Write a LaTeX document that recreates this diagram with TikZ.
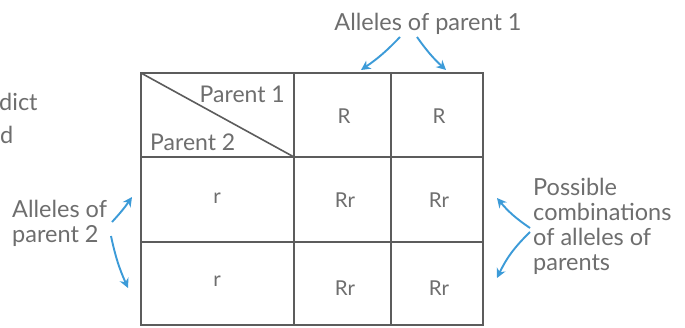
\documentclass[tikz,border=0pt]{standalone}
\usepackage{fontspec}
\setmainfont{Lato}
\usetikzlibrary{arrows.meta}
\definecolor{labelgray}{HTML}{6E6E6E}
\definecolor{gridgray}{HTML}{5C5C5C}
\definecolor{arrowblue}{HTML}{3C9BD8}
\begin{document}
\begin{tikzpicture}[x=1pt,y=-1pt,
  lbl/.style={font=\fontsize{23.5}{25}\selectfont, text=labelgray, inner sep=0pt},
  hdr/.style={font=\fontsize{23}{25}\selectfont, text=labelgray, inner sep=0pt},
  cell/.style={font=\fontsize{20.5}{22}\selectfont, text=labelgray, inner sep=0pt, anchor=base},
  grid/.style={draw=gridgray, line width=1.6pt},
  pointer/.style={draw=arrowblue, line width=1.9pt, -{Stealth[length=9.5pt,width=9.5pt]}}]
\fill[white] (0,0) rectangle (685,327);
\useasboundingbox (0,0) rectangle (685,327);

% text running in from the left margin
\node[lbl, anchor=base west] (frag1) at (-1,110) {dict};
\node[lbl, anchor=base west] (frag2) at (0,143) {d};

% Punnett square
\coordinate (nw) at (141,73);
\coordinate (se) at (483,325);
\coordinate (c1) at (294,73);
\coordinate (c2) at (391,73);
\coordinate (hd) at (294,157);
\draw[grid] (nw) rectangle (se);
\draw[grid] (141,157) -- (483,157);
\draw[grid] (141,242) -- (483,242);
\draw[grid] (c1) -- (294,325);
\draw[grid] (c2) -- (391,325);
\draw[grid] (nw) -- (hd);

\node[hdr, anchor=base east] (p1) at (285,102) {Parent 1};
\node[hdr, anchor=base west] (p2) at (150,150) {Parent 2};

\node[cell] (a1) at (344,123) {R};
\node[cell] (a2) at (439,123) {R};
\node[cell] (b1) at (217,203) {r};
\node[cell] (b2) at (217,286) {r};
\node[cell] (x11) at (345,207) {Rr};
\node[cell] (x12) at (439,207) {Rr};
\node[cell] (x21) at (345,295) {Rr};
\node[cell] (x22) at (439,295) {Rr};

% annotations
\node[lbl, anchor=base] (top) at (428,30) {Alleles of parent 1};
\node[lbl, anchor=north west, align=left] (left) at (12,200) {Alleles of\\parent 2};
\node[lbl, anchor=north west, align=left] (right) at (533,178) {Possible\\combinations\\of alleles of\\parents};

% pointer ends
\coordinate (t1) at (400,37);
\coordinate (t1h) at (361,70);
\coordinate (t2) at (417,37);
\coordinate (t2h) at (446,70);
\coordinate (l1) at (112,222);
\coordinate (l1h) at (132,197);
\coordinate (l2) at (111,236);
\coordinate (l2h) at (128,288);
\coordinate (r1) at (530,228);
\coordinate (r1h) at (497,198);
\coordinate (r2) at (530,232);
\coordinate (r2h) at (497,278);

\draw[pointer] (t1) to[bend left=6] (t1h);
\draw[pointer] (t2) to[bend right=6] (t2h);
\draw[pointer] (l1) to[bend right=4] (l1h);
\draw[pointer] (l2) to[bend right=6] (l2h);
\draw[pointer] (r1) to[bend left=8] (r1h);
\draw[pointer] (r2) to[bend right=10] (r2h);
\end{tikzpicture}
\end{document}
